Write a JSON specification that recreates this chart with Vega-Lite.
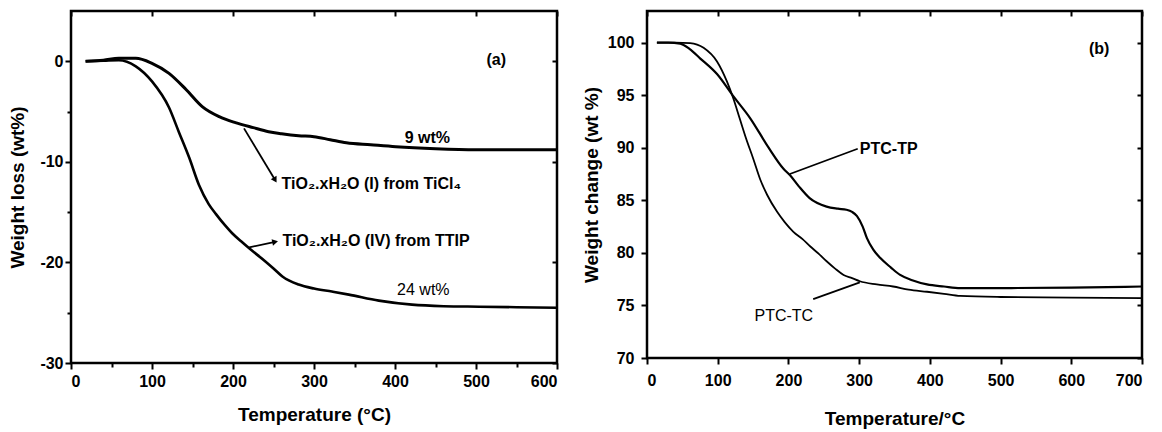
{
  "$schema": "https://vega.github.io/schema/vega-lite/v6.json",
  "padding": {"left": 7, "top": 8, "right": 5, "bottom": 0},
  "background": "white",
  "spacing": 16,
  "config": {
    "view": {"stroke": "black", "strokeWidth": 2.5},
    "font": "Liberation Sans",
    "axis": {
      "labelFont": "Liberation Sans", "labelFontWeight": "bold", "labelFontSize": 16, "labelColor": "black",
      "titleFont": "Liberation Sans", "titleFontWeight": "bold", "titleFontSize": 19, "titleColor": "black",
      "tickColor": "black", "tickWidth": 2, "domain": false, "grid": false
    },
    "text": {"font": "Liberation Sans", "color": "black"}
  },
  "hconcat": [
    {
      "width": 486, "height": 352,
      "resolve": {"axis": {"x": "independent", "y": "independent"}},
      "layer": [
        {
          "data": {"values": [
            {"s": "I", "T": 18, "w": 0}, {"s": "I", "T": 40, "w": 0.1}, {"s": "I", "T": 59, "w": 0.3}, {"s": "I", "T": 80, "w": 0.3},
            {"s": "I", "T": 100, "w": -0.2}, {"s": "I", "T": 121, "w": -1.2}, {"s": "I", "T": 142, "w": -2.8}, {"s": "I", "T": 162, "w": -4.5},
            {"s": "I", "T": 183, "w": -5.5}, {"s": "I", "T": 203, "w": -6.1}, {"s": "I", "T": 225, "w": -6.6}, {"s": "I", "T": 244, "w": -7.0},
            {"s": "I", "T": 260, "w": -7.2}, {"s": "I", "T": 281, "w": -7.4}, {"s": "I", "T": 300, "w": -7.5}, {"s": "I", "T": 320, "w": -7.8},
            {"s": "I", "T": 340, "w": -8.1}, {"s": "I", "T": 370, "w": -8.3}, {"s": "I", "T": 401, "w": -8.5}, {"s": "I", "T": 450, "w": -8.7},
            {"s": "I", "T": 500, "w": -8.8}, {"s": "I", "T": 550, "w": -8.8}, {"s": "I", "T": 600, "w": -8.8},
            {"s": "IV", "T": 18, "w": 0}, {"s": "IV", "T": 40, "w": 0.05}, {"s": "IV", "T": 59, "w": 0.1}, {"s": "IV", "T": 80, "w": -0.5},
            {"s": "IV", "T": 100, "w": -2.0}, {"s": "IV", "T": 121, "w": -4.6}, {"s": "IV", "T": 133, "w": -7.0}, {"s": "IV", "T": 146, "w": -9.6},
            {"s": "IV", "T": 158, "w": -12.3}, {"s": "IV", "T": 170, "w": -14.2}, {"s": "IV", "T": 179, "w": -15.2}, {"s": "IV", "T": 190, "w": -16.3},
            {"s": "IV", "T": 199, "w": -17.1}, {"s": "IV", "T": 210, "w": -17.9}, {"s": "IV", "T": 220, "w": -18.6}, {"s": "IV", "T": 240, "w": -19.9},
            {"s": "IV", "T": 250, "w": -20.6}, {"s": "IV", "T": 261, "w": -21.4}, {"s": "IV", "T": 281, "w": -22.2}, {"s": "IV", "T": 300, "w": -22.6},
            {"s": "IV", "T": 322, "w": -22.9}, {"s": "IV", "T": 343, "w": -23.2}, {"s": "IV", "T": 380, "w": -23.8}, {"s": "IV", "T": 421, "w": -24.2},
            {"s": "IV", "T": 460, "w": -24.35}, {"s": "IV", "T": 504, "w": -24.4}, {"s": "IV", "T": 550, "w": -24.45}, {"s": "IV", "T": 600, "w": -24.5}
          ]},
          "mark": {"type": "line", "color": "black", "interpolate": "monotone"},
          "encoding": {
            "x": {"field": "T", "type": "quantitative", "scale": {"domain": [0, 600], "nice": false},
              "axis": {"title": "Temperature (°C)", "values": [0, 50, 100, 150, 200, 250, 300, 350, 400, 450, 500, 550, 600],
                "labelExpr": "datum.value % 100 === 0 ? datum.label : ''",
                "tickSize": {"condition": {"test": "datum.value % 100 === 0", "value": 6}, "value": 4},
                "labelPadding": 4, "titlePadding": 16}},
            "y": {"field": "w", "type": "quantitative", "scale": {"domain": [-30, 5], "nice": false},
              "axis": {"title": "Weight loss (wt%)", "values": [-30, -25, -20, -15, -10, -5, 0],
                "labelExpr": "datum.value % 10 === 0 ? replace(datum.label, '−', '-') : ''",
                "tickSize": {"condition": {"test": "datum.value % 10 === 0", "value": 6}, "value": 4},
                "labelPadding": 2, "titlePadding": 12}},
            "strokeWidth": {"field": "s", "type": "nominal", "scale": {"domain": ["I", "IV"], "range": [3, 1.8]}, "legend": null},
            "detail": {"field": "s"}
          }
        },
        {
          "data": {"values": [
            {"x": 213.6, "y": -6.67, "x2": 252, "y2": -11.8},
            {"x": 220, "y": -18.5, "x2": 252, "y2": -17.95}
          ]},
          "mark": {"type": "rule", "color": "black", "strokeWidth": 1.8},
          "encoding": {
            "x": {"field": "x", "type": "quantitative", "axis": {"orient": "top", "labels": false, "title": null, "tickSize": -5,
              "values": [0, 100, 200, 300, 400, 500, 600]}},
            "y": {"field": "y", "type": "quantitative", "axis": {"orient": "right", "labels": false, "title": null, "tickSize": -5,
              "values": [-30, -20, -10, 0]}},
            "x2": {"field": "x2"},
            "y2": {"field": "y2"}
          }
        },
        {
          "data": {"values": [
            {"x": 252, "y": -11.8, "a": 59.5},
            {"x": 252, "y": -17.95, "a": 348}
          ]},
          "mark": {"type": "point", "shape": "triangle-right", "filled": true, "color": "black", "size": 45, "opacity": 1},
          "encoding": {
            "x": {"field": "x", "type": "quantitative", "axis": null},
            "y": {"field": "y", "type": "quantitative", "axis": null},
            "angle": {"field": "a", "type": "quantitative", "scale": null}
          }
        },
        {
          "data": {"values": [
            {"x": 260, "y": -12.2, "t": "TiO₂.xH₂O (I) from TiCl₄"},
            {"x": 261, "y": -17.9, "t": "TiO₂.xH₂O (IV) from TTIP"}
          ]},
          "mark": {"type": "text", "align": "left", "baseline": "middle", "fontSize": 16, "fontWeight": "bold"},
          "encoding": {
            "x": {"field": "x", "type": "quantitative", "axis": null},
            "y": {"field": "y", "type": "quantitative", "axis": null},
            "text": {"field": "t"}
          }
        },
        {
          "data": {"values": [
            {"x": 440, "y": -7.6, "t": "9 wt%"},
            {"x": 525, "y": 0.1, "t": "(a)"}
          ]},
          "mark": {"type": "text", "align": "center", "baseline": "middle", "fontSize": 16, "fontWeight": "bold"},
          "encoding": {
            "x": {"field": "x", "type": "quantitative", "axis": null},
            "y": {"field": "y", "type": "quantitative", "axis": null},
            "text": {"field": "t"}
          }
        },
        {
          "data": {"values": [
            {"x": 435, "y": -22.7, "t": "24 wt%"}
          ]},
          "mark": {"type": "text", "align": "center", "baseline": "middle", "fontSize": 16, "fontWeight": "normal"},
          "encoding": {
            "x": {"field": "x", "type": "quantitative", "axis": null},
            "y": {"field": "y", "type": "quantitative", "axis": null},
            "text": {"field": "t"}
          }
        }
      ]
    },
    {
      "width": 495, "height": 347,
      "resolve": {"axis": {"x": "independent", "y": "independent"}},
      "layer": [
        {
          "data": {"values": [
            {"s": "PTC-TP", "T": 14, "w": 100}, {"s": "PTC-TP", "T": 30, "w": 100}, {"s": "PTC-TP", "T": 47, "w": 99.9}, {"s": "PTC-TP", "T": 60, "w": 99.4},
            {"s": "PTC-TP", "T": 75, "w": 98.5}, {"s": "PTC-TP", "T": 99, "w": 97.0}, {"s": "PTC-TP", "T": 122, "w": 94.9}, {"s": "PTC-TP", "T": 146, "w": 92.8},
            {"s": "PTC-TP", "T": 172, "w": 90.0}, {"s": "PTC-TP", "T": 193, "w": 88.0}, {"s": "PTC-TP", "T": 202, "w": 87.4}, {"s": "PTC-TP", "T": 215, "w": 86.3},
            {"s": "PTC-TP", "T": 230, "w": 85.2}, {"s": "PTC-TP", "T": 254, "w": 84.4}, {"s": "PTC-TP", "T": 270, "w": 84.2}, {"s": "PTC-TP", "T": 282, "w": 84.1},
            {"s": "PTC-TP", "T": 290, "w": 83.9}, {"s": "PTC-TP", "T": 297, "w": 83.5}, {"s": "PTC-TP", "T": 305, "w": 82.5}, {"s": "PTC-TP", "T": 311, "w": 81.4},
            {"s": "PTC-TP", "T": 320, "w": 80.3}, {"s": "PTC-TP", "T": 330, "w": 79.5}, {"s": "PTC-TP", "T": 345, "w": 78.6}, {"s": "PTC-TP", "T": 358, "w": 77.9},
            {"s": "PTC-TP", "T": 375, "w": 77.4}, {"s": "PTC-TP", "T": 396, "w": 77.0}, {"s": "PTC-TP", "T": 420, "w": 76.8}, {"s": "PTC-TP", "T": 443, "w": 76.65},
            {"s": "PTC-TP", "T": 500, "w": 76.65}, {"s": "PTC-TP", "T": 600, "w": 76.7}, {"s": "PTC-TP", "T": 700, "w": 76.8},
            {"s": "PTC-TC", "T": 14, "w": 100}, {"s": "PTC-TC", "T": 40, "w": 100}, {"s": "PTC-TC", "T": 61, "w": 99.95}, {"s": "PTC-TC", "T": 80, "w": 99.5},
            {"s": "PTC-TC", "T": 99, "w": 98.2}, {"s": "PTC-TC", "T": 113, "w": 96.3}, {"s": "PTC-TC", "T": 122, "w": 94.7}, {"s": "PTC-TC", "T": 131, "w": 92.8},
            {"s": "PTC-TC", "T": 140, "w": 90.9}, {"s": "PTC-TC", "T": 150, "w": 89.0}, {"s": "PTC-TC", "T": 160, "w": 87.0}, {"s": "PTC-TC", "T": 170, "w": 85.5},
            {"s": "PTC-TC", "T": 184, "w": 83.9}, {"s": "PTC-TC", "T": 195, "w": 82.9}, {"s": "PTC-TC", "T": 207, "w": 82.0}, {"s": "PTC-TC", "T": 220, "w": 81.3},
            {"s": "PTC-TC", "T": 231, "w": 80.6}, {"s": "PTC-TC", "T": 243, "w": 79.9}, {"s": "PTC-TC", "T": 254, "w": 79.2}, {"s": "PTC-TC", "T": 266, "w": 78.5},
            {"s": "PTC-TC", "T": 278, "w": 77.9}, {"s": "PTC-TC", "T": 290, "w": 77.6}, {"s": "PTC-TC", "T": 301, "w": 77.3}, {"s": "PTC-TC", "T": 325, "w": 77.0},
            {"s": "PTC-TC", "T": 348, "w": 76.8}, {"s": "PTC-TC", "T": 370, "w": 76.5}, {"s": "PTC-TC", "T": 396, "w": 76.3}, {"s": "PTC-TC", "T": 420, "w": 76.1},
            {"s": "PTC-TC", "T": 443, "w": 75.9}, {"s": "PTC-TC", "T": 500, "w": 75.8}, {"s": "PTC-TC", "T": 600, "w": 75.75}, {"s": "PTC-TC", "T": 700, "w": 75.7}
          ]},
          "mark": {"type": "line", "color": "black", "interpolate": "monotone"},
          "encoding": {
            "x": {"field": "T", "type": "quantitative", "scale": {"domain": [0, 700], "nice": false},
              "axis": {"title": "Temperature/°C", "values": [0, 100, 200, 300, 400, 500, 600, 700],
                "tickSize": 6, "labelPadding": 8, "titlePadding": 21}},
            "y": {"field": "w", "type": "quantitative", "scale": {"domain": [70, 103], "nice": false},
              "axis": {"title": "Weight change (wt %)", "values": [70, 75, 80, 85, 90, 95, 100],
                "tickSize": 6, "labelPadding": 7, "titlePadding": 6}},
            "strokeWidth": {"field": "s", "type": "nominal", "scale": {"domain": ["PTC-TP", "PTC-TC"], "range": [3, 1.8]}, "legend": null},
            "detail": {"field": "s"}
          }
        },
        {
          "data": {"values": [
            {"x": 202, "y": 87.5, "x2": 298, "y2": 89.9},
            {"x": 235, "y": 75.6, "x2": 301, "y2": 77.2}
          ]},
          "mark": {"type": "rule", "color": "black", "strokeWidth": 1.8},
          "encoding": {
            "x": {"field": "x", "type": "quantitative", "axis": {"orient": "top", "labels": false, "title": null, "tickSize": -5,
              "values": [0, 100, 200, 300, 400, 500, 600, 700]}},
            "y": {"field": "y", "type": "quantitative", "axis": {"orient": "right", "labels": false, "title": null, "tickSize": -5,
              "values": [70, 75, 80, 85, 90, 95, 100]}},
            "x2": {"field": "x2"},
            "y2": {"field": "y2"}
          }
        },
        {
          "data": {"values": [
            {"x": 301, "y": 89.9, "t": "PTC-TP"},
            {"x": 625, "y": 99.4, "t": "(b)"}
          ]},
          "mark": {"type": "text", "align": "left", "baseline": "middle", "fontSize": 16, "fontWeight": "bold"},
          "encoding": {
            "x": {"field": "x", "type": "quantitative", "axis": null},
            "y": {"field": "y", "type": "quantitative", "axis": null},
            "text": {"field": "t"}
          }
        },
        {
          "data": {"values": [
            {"x": 152, "y": 74.0, "t": "PTC-TC"}
          ]},
          "mark": {"type": "text", "align": "left", "baseline": "middle", "fontSize": 16, "fontWeight": "normal"},
          "encoding": {
            "x": {"field": "x", "type": "quantitative", "axis": null},
            "y": {"field": "y", "type": "quantitative", "axis": null},
            "text": {"field": "t"}
          }
        }
      ]
    }
  ]
}
